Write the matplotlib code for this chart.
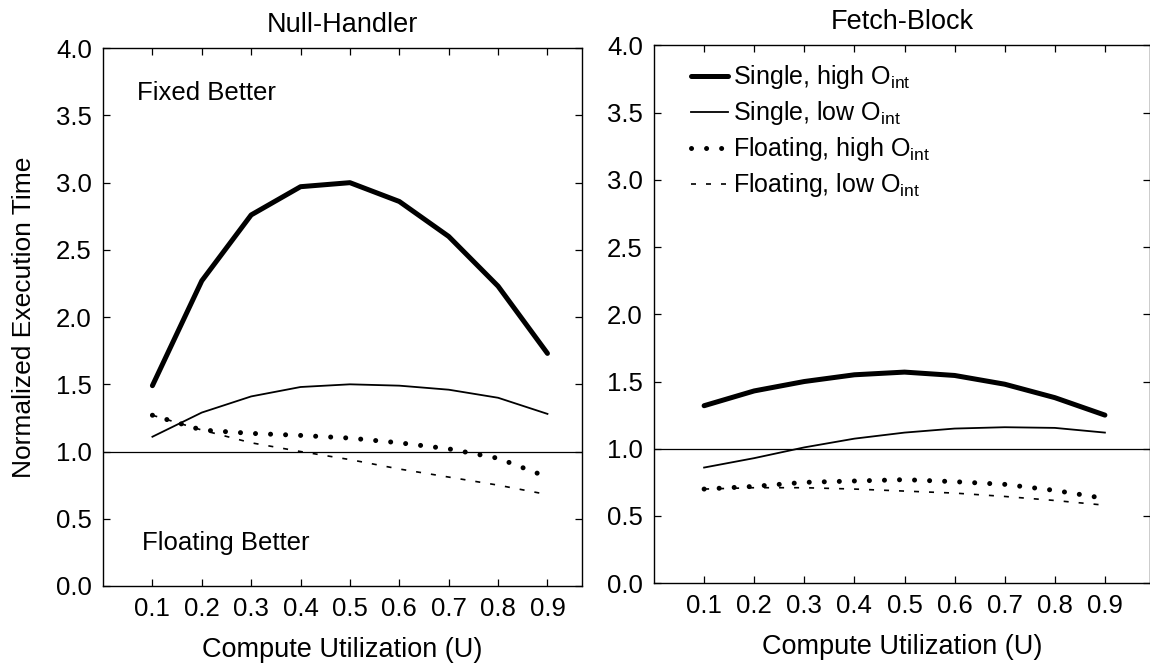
import matplotlib.pyplot as plt

plt.rcParams["font.family"] = ["Liberation Sans", "DejaVu Sans"]
plt.rcParams["mathtext.fontset"] = "custom"
plt.rcParams["mathtext.rm"] = "Liberation Sans"

utilization = [0.1, 0.2, 0.3, 0.4, 0.5, 0.6, 0.7, 0.8, 0.9]
x_ticks = [0.1, 0.2, 0.3, 0.4, 0.5, 0.6, 0.7, 0.8, 0.9]
y_ticks = [0.0, 0.5, 1.0, 1.5, 2.0, 2.5, 3.0, 3.5, 4.0]

series_names = [
    r"Single, high O$_{\rm int}$",
    r"Single, low O$_{\rm int}$",
    r"Floating, high O$_{\rm int}$",
    r"Floating, low O$_{\rm int}$",
]

# Null-Handler panel
null_single_high = [1.49, 2.27, 2.76, 2.97, 3.00, 2.86, 2.60, 2.23, 1.73]
null_single_low = [1.11, 1.29, 1.41, 1.48, 1.50, 1.49, 1.46, 1.40, 1.28]
null_float_high = [1.27, 1.16, 1.135, 1.12, 1.10, 1.065, 1.02, 0.95, 0.81]
null_float_low = [1.27, 1.16, 1.065, 1.00, 0.94, 0.87, 0.81, 0.75, 0.68]

# Fetch-Block panel
fetch_single_high = [1.32, 1.43, 1.50, 1.55, 1.57, 1.545, 1.48, 1.38, 1.25]
fetch_single_low = [0.86, 0.93, 1.01, 1.075, 1.12, 1.15, 1.16, 1.155, 1.12]
fetch_float_high = [0.70, 0.72, 0.75, 0.76, 0.77, 0.755, 0.735, 0.69, 0.63]
fetch_float_low = [0.70, 0.71, 0.71, 0.70, 0.685, 0.67, 0.645, 0.615, 0.58]

styles = [
    dict(color="black", lw=3.6, ls="-", solid_capstyle="round"),
    dict(color="black", lw=1.3, ls="-"),
    dict(color="black", lw=3.6, ls=(0, (0.01, 3.0)), dash_capstyle="round"),
    dict(color="black", lw=1.2, ls=(0, (3, 6))),
]

fig = plt.figure(figsize=(11.5, 6.68), dpi=100)
ax_l = fig.add_axes([0.0896, 0.1228, 0.4165, 0.805])
ax_r = fig.add_axes([0.5687, 0.127, 0.4313, 0.805])


def draw_panel(ax, data, title, xmax):
    for ys, st, name in zip(data, styles, series_names):
        ax.plot(utilization, ys, label=name, **st)
    ax.axhline(1.0, color="black", lw=0.9)
    ax.set_xlim(0, xmax)
    ax.set_ylim(0, 4.0)
    ax.set_xticks(x_ticks)
    ax.set_xticklabels([f"{v:.1f}" for v in x_ticks])
    ax.set_yticks(y_ticks)
    ax.set_yticklabels([f"{v:.1f}" for v in y_ticks])
    ax.tick_params(direction="in", top=True, right=True, length=5, width=0.9,
                   labelsize=18.5)
    ax.tick_params(axis="x", pad=8)
    ax.tick_params(axis="y", pad=8)
    for sp in ax.spines.values():
        sp.set_linewidth(1.0)
    ax.set_title(title, fontsize=19.5, pad=12)
    ax.set_xlabel("Compute Utilization (U)", fontsize=19.5, va="center")
    ax.xaxis.set_label_coords(0.5, -0.119)


draw_panel(ax_l, [null_single_high, null_single_low, null_float_high, null_float_low],
           "Null-Handler", 0.97)
draw_panel(ax_r, [fetch_single_high, fetch_single_low, fetch_float_high, fetch_float_low],
           "Fetch-Block", 0.99)

ax_l.set_ylabel("Normalized Execution Time", fontsize=19, va="center")
ax_l.yaxis.set_label_coords(-0.166, 0.5)
ax_l.text(0.068, 3.67, "Fixed Better", fontsize=18.5, va="center")
ax_l.text(0.078, 0.32, "Floating Better", fontsize=18.5, va="center")

ax_r.legend(loc="upper left", bbox_to_anchor=(0.055, 0.985), frameon=False,
            fontsize=18, handlelength=1.45, handletextpad=0.2, labelspacing=0.32,
            borderaxespad=0)

fig.savefig("out.png", dpi=100)
